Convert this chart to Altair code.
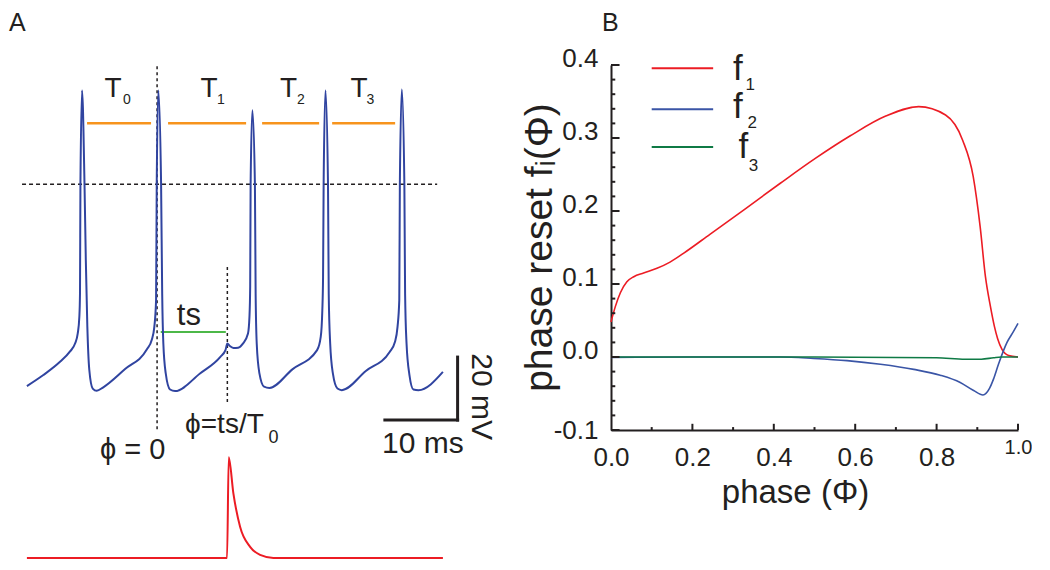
import altair as alt
import pandas as pd

FONT = "Liberation Sans"
INK = "#231f20"
TRACE = "#3044a0"
RED = "#ec1c24"
BLUE = "#3a55a6"
GREEN = "#0f7a45"
ORANGE = "#f7941d"
TS_GREEN = "#4cb848"

# ---------------- Panel A data ----------------
# membrane potential trace: time (ms), voltage (mV, 0 = dashed threshold line)
trace_t = [0.0, 2.26, 4.55, 5.93, 6.62, 6.99, 7.21, 7.30, 7.36, 7.58, 7.92, 8.10, 8.31, 8.58, 9.05, 9.60,
           10.5, 13.5, 16.48, 17.17, 17.52, 17.76, 17.85, 18.07, 18.45, 18.60, 18.76, 19.09, 19.68, 20.37,
           23.8, 26.6, 27.3, 27.56, 27.9, 28.4, 29.05, 29.7, 30.4, 30.6, 30.7, 30.76, 31.0, 31.35, 31.45, 31.6,
           31.97, 32.6, 33.35,
           36.5, 39.9, 40.4, 40.62, 40.72, 40.8, 41.05, 41.4, 41.5, 41.7, 42.07, 42.7, 43.3,
           46.6, 49.9, 50.6, 50.96, 51.2, 51.28, 51.55, 51.9, 52.0, 52.2, 52.6, 53.15, 53.84, 57.2]
trace_v = [-64.1, -60.6, -56.4, -53.1, -50.6, -47.4, -42.1, -34.6, 0.0, 29.8, 0.0, -24.1, -45.3, -59.0, -64.9, -65.6,
           -64.5, -58.7, -52.5, -49.4, -45.3, -36.8, 0.0, 29.8, 0.0, -34.6, -50.6, -60.1, -65.2, -65.7,
           -60.1, -54.8, -52.7, -50.6, -51.4, -52.0, -51.9, -50.6, -47.4, -42.1, -32.6, 0.0, 23.5, 0.0, -34.7, -50.6,
           -60.1, -64.3, -64.7,
           -58.8, -52.7, -48.5, -40.0, -29.4, 0.0, 29.8, 0.0, -34.7, -50.6, -60.1, -64.9, -65.4,
           -59.3, -53.2, -50.1, -45.3, -36.8, 0.0, 30.1, 0.0, -34.7, -50.6, -60.6, -65.2, -65.4, -59.6]

# stimulus pulse (normalised amplitude), drawn under the trace
stim_t = [0.0, 27.52, 27.75, 28.39, 29.31, 30.69, 32.06, 33.89, 57.2]
stim_amp = [0.0, 0.0, 1.0, 0.64, 0.31, 0.11, 0.03, 0.0, 0.0]
STIM_BASE = -118.7
STIM_GAIN = 32.0

# period bars (orange) and their labels
period_start = [8.27, 19.41, 32.34, 41.97]
period_end = [17.07, 30.14, 40.18, 50.63]
period_level = 19.4
period_names = ["T", "T", "T", "T"]
period_subs = ["0", "1", "2", "3"]
period_name_t = [11.84, 25.05, 35.98, 45.68]
period_sub_t = [13.75, 26.68, 37.68, 47.22]

# ---------------- Panel B data ----------------
f1_phase = [0.0, 0.0106, 0.023, 0.039, 0.056, 0.08, 0.113, 0.145, 0.178, 0.243, 0.330, 0.416, 0.502, 0.588,
            0.675, 0.756, 0.822, 0.864, 0.890, 0.907, 0.920, 0.932, 0.942, 0.950, 0.961, 0.977, 1.0]
f1_val = [0.048, 0.069, 0.088, 0.103, 0.110, 0.115, 0.1215, 0.130, 0.142, 0.168, 0.203, 0.238, 0.272, 0.303,
          0.330, 0.343, 0.3315, 0.297, 0.247, 0.1785, 0.110, 0.070, 0.042, 0.025, 0.010, 0.002, 0.0]
f2_phase = [0.0, 0.2, 0.416, 0.498, 0.58, 0.662, 0.744, 0.809, 0.858, 0.891, 0.914, 0.930, 0.940, 0.952,
            0.973, 0.989, 1.0]
f2_val = [-0.0005, 0.0, 0.0, -0.002, -0.005, -0.010, -0.017, -0.025, -0.035, -0.046, -0.052, -0.043, -0.030,
          -0.010, 0.020, 0.035, 0.046]
f3_phase = [0.0, 0.5, 0.8, 0.87, 0.91, 0.94, 0.96, 1.0]
f3_val = [0.0, 0.0, -0.001, -0.003, -0.003, -0.001, 0.0, 0.0]

x_major = [0.2, 0.4, 0.6, 0.8, 1.0]
x_minor = [0.1, 0.3, 0.5, 0.7, 0.9]
y_major = [-0.1, 0.0, 0.1, 0.2, 0.3, 0.4]
y_minor = [-0.08, -0.06, -0.04, -0.02, 0.02, 0.04, 0.06, 0.08, 0.12, 0.14, 0.16, 0.18,
           0.22, 0.24, 0.26, 0.28, 0.32, 0.34, 0.36, 0.38]

legend_keys = ["f1", "f2", "f3"]
legend_level = [0.3955, 0.3393, 0.2877]
legend_letter_y = [0.3795, 0.327, 0.2726]
legend_letter_x = [0.30, 0.30, 0.313]
legend_sub_txt = ["1", "2", "3"]
legend_sub_x = [0.342, 0.347, 0.350]
legend_sub_y = [0.366, 0.3137, 0.2548]

# ---------------- Panel A ----------------
sAx = alt.Scale(domain=[-2.6, 63.4], nice=False, zero=False)
sAy = alt.Scale(domain=[-120, 56], nice=False, zero=False)


def ax(f):
    return alt.X(f + ":Q", scale=sAx, axis=None)


def ay(f):
    return alt.Y(f + ":Q", scale=sAy, axis=None)


def textA(labels, ts, vs, size, align="left", angle=0, color=INK):
    df = pd.DataFrame({"label": labels, "t": ts, "v": vs})
    return alt.Chart(df).mark_text(font=FONT, fontSize=size, align=align, baseline="alphabetic",
                                   angle=angle, color=color).encode(x=ax("t"), y=ay("v"), text="label:N")


trace = alt.Chart(pd.DataFrame({"t": trace_t, "v": trace_v})).mark_line(
    color=TRACE, strokeWidth=2, interpolate="monotone").encode(x=ax("t"), y=ay("v"))

stim = alt.Chart(pd.DataFrame({"t": stim_t, "a": stim_amp})).transform_calculate(
    v=f"{STIM_BASE} + {STIM_GAIN} * datum.a").mark_line(
    color=RED, strokeWidth=2, interpolate="monotone").encode(x=ax("t"), y=ay("v"))

hline = alt.Chart(pd.DataFrame({"t1": [-0.67], "t2": [56.41], "v": [0.0]})).mark_rule(
    color=INK, strokeWidth=1.5, strokeDash=[4, 3]).encode(x=ax("t1"), x2="t2:Q", y=ay("v"))

vlines = alt.Chart(pd.DataFrame({"t": [17.9, 27.56], "v1": [37.5, -26.3], "v2": [-78.1, -69.6]})).mark_rule(
    color=INK, strokeWidth=1.5, strokeDash=[3, 3]).encode(x=ax("t"), y=ay("v1"), y2="v2:Q")

periods = alt.Chart(pd.DataFrame({"t1": period_start, "t2": period_end,
                                  "v": [period_level] * 4})).mark_rule(
    color=ORANGE, strokeWidth=2.5).encode(x=ax("t1"), x2="t2:Q", y=ay("v"))

ts_bar = alt.Chart(pd.DataFrame({"t1": [18.40], "t2": [27.35], "v": [-46.9]})).mark_rule(
    color=TS_GREEN, strokeWidth=2).encode(x=ax("t1"), x2="t2:Q", y=ay("v"))

bar_h = alt.Chart(pd.DataFrame({"t1": [49.22], "t2": [59.22], "v": [-74.9]})).mark_rule(
    color=INK, strokeWidth=3, strokeCap="square").encode(x=ax("t1"), x2="t2:Q", y=ay("v"))
bar_v = alt.Chart(pd.DataFrame({"t": [59.22], "v1": [-54.9], "v2": [-74.9]})).mark_rule(
    color=INK, strokeWidth=3, strokeCap="square").encode(x=ax("t"), y=ay("v1"), y2="v2:Q")

panelA = alt.layer(
    hline, vlines, periods, ts_bar, trace, stim, bar_h, bar_v,
    textA(["A"], [-2.45], [48.8], 25),
    textA(period_names, period_name_t, [27.7] * 4, 28, align="center"),
    textA(period_subs, period_sub_t, [25.4] * 4, 14, align="center"),
    textA(["ts"], [22.27], [-44.8], 31, align="center"),
    textA(["ϕ = 0"], [10.05], [-87.3], 29),
    textA(["ϕ=ts/T"], [21.75], [-79.1], 28),
    textA(["0"], [33.9], [-82.1], 18, align="center"),
    textA(["10 ms"], [48.84], [-85.3], 30),
    textA(["20 mV"], [61.2], [-53.7], 30, angle=90),
).properties(width=480, height=554)

# ---------------- Panel B ----------------
sBx = alt.Scale(domain=[0, 1], nice=False, zero=False)
sBy = alt.Scale(domain=[-0.1, 0.4], nice=False, zero=False)

x_axis = alt.Axis(
    values=[0, 0.2, 0.4, 0.6, 0.8, 1.0], format=".1f", ticks=False, tickSize=0, grid=False,
    domainColor=INK, domainWidth=2, labelFont=FONT, labelColor=INK,
    labelFontSize={"condition": {"test": "datum.value == 1", "value": 20}, "value": 26},
    labelPadding={"condition": {"test": "datum.value == 1", "value": 7}, "value": 14},
    labelFlush=False, labelOverlap=False, labelBound=False,
    title="phase (Φ)", titleFont=FONT, titleFontSize=33, titleFontWeight="normal", titleColor=INK,
    titleX=184, titleY=72, titleAlign="center", titleBaseline="alphabetic")

y_axis = alt.Axis(
    values=[-0.1, 0, 0.1, 0.2, 0.3, 0.4], format=".1f", ticks=False, tickSize=0, grid=False,
    domainColor=INK, domainWidth=2, labelFont=FONT, labelColor=INK, labelFontSize=26,
    labelExpr="replace(datum.label, '\u2212', '-')",
    labelPadding=13,
    labelOffset={"condition": {"test": "datum.value < -0.05", "value": 0}, "value": -7},
    labelFlush=False, labelOverlap=False, labelBound=False,
    title="phase reset f\u1d62(Φ)", titleFont=FONT, titleFontSize=39, titleFontWeight="normal",
    titleColor=INK, titleX=-60, titleY=182, titleAngle=270, titleAlign="center",
    titleBaseline="alphabetic")


def curve(phase, vals, color, with_axes=False):
    df = pd.DataFrame({"phase": phase, "f": vals})
    if with_axes:
        x = alt.X("phase:Q", scale=sBx, axis=x_axis)
        y = alt.Y("f:Q", scale=sBy, axis=y_axis)
    else:
        x = alt.X("phase:Q", scale=sBx)
        y = alt.Y("f:Q", scale=sBy)
    return alt.Chart(df).mark_line(color=color, strokeWidth=1.6, interpolate="monotone").encode(x=x, y=y)


def bx(f):
    return alt.X(f + ":Q", scale=sBx)


def by(f):
    return alt.Y(f + ":Q", scale=sBy)


def textB(labels, xs, ys, size, align="left"):
    df = pd.DataFrame({"label": labels, "phase": xs, "f": ys})
    return alt.Chart(df).mark_text(font=FONT, fontSize=size, align=align, baseline="alphabetic",
                                   color=INK).encode(x=bx("phase"), y=by("f"), text="label:N")


ytk = pd.DataFrame({"f": y_major + y_minor,
                    "len": [0.021] * len(y_major) + [0.0105] * len(y_minor),
                    "x0": [0.0] * (len(y_major) + len(y_minor))})
ytick = alt.Chart(ytk).mark_rule(color=INK, strokeWidth=2).encode(x=bx("x0"), x2="len:Q", y=by("f"))

xtk = pd.DataFrame({"phase": x_major + x_minor,
                    "top": [-0.1 + 0.0085] * len(x_major) + [-0.1 + 0.004] * len(x_minor),
                    "y0": [-0.1] * (len(x_major) + len(x_minor))})
xtick = alt.Chart(xtk).mark_rule(color=INK, strokeWidth=2).encode(x=bx("phase"), y=by("y0"), y2="top:Q")

leg = pd.DataFrame({"key": legend_keys, "f": legend_level, "x1": [0.10] * 3, "x2": [0.251] * 3})
leg_lines = alt.Chart(leg).mark_rule(strokeWidth=2).encode(
    x=bx("x1"), x2="x2:Q", y=by("f"),
    color=alt.Color("key:N", scale=alt.Scale(domain=legend_keys, range=[RED, BLUE, GREEN]), legend=None))

panelB = alt.layer(
    curve(f1_phase, f1_val, RED, with_axes=True),
    curve(f2_phase, f2_val, BLUE),
    curve(f3_phase, f3_val, GREEN),
    ytick, xtick, leg_lines,
    textB(["f", "f", "f"], legend_letter_x, legend_letter_y, 35),
    textB(legend_sub_txt, legend_sub_x, legend_sub_y, 17, align="center"),
    textB(["B"], [-0.022], [0.447], 25),
).properties(width=407, height=365)

spacer = alt.Chart(pd.DataFrame({"p": [0]})).mark_point(opacity=0).encode(
    x=alt.X("p:Q", axis=None), y=alt.Y("p:Q", axis=None)).properties(width=407, height=57)

chart = alt.hconcat(
    panelA,
    alt.vconcat(spacer, panelB, spacing=0, bounds="flush"),
    spacing=123, bounds="flush",
).properties(padding=0).configure_view(stroke=None)

chart.save("out.html", embed_options={"renderer": "svg", "actions": False})
